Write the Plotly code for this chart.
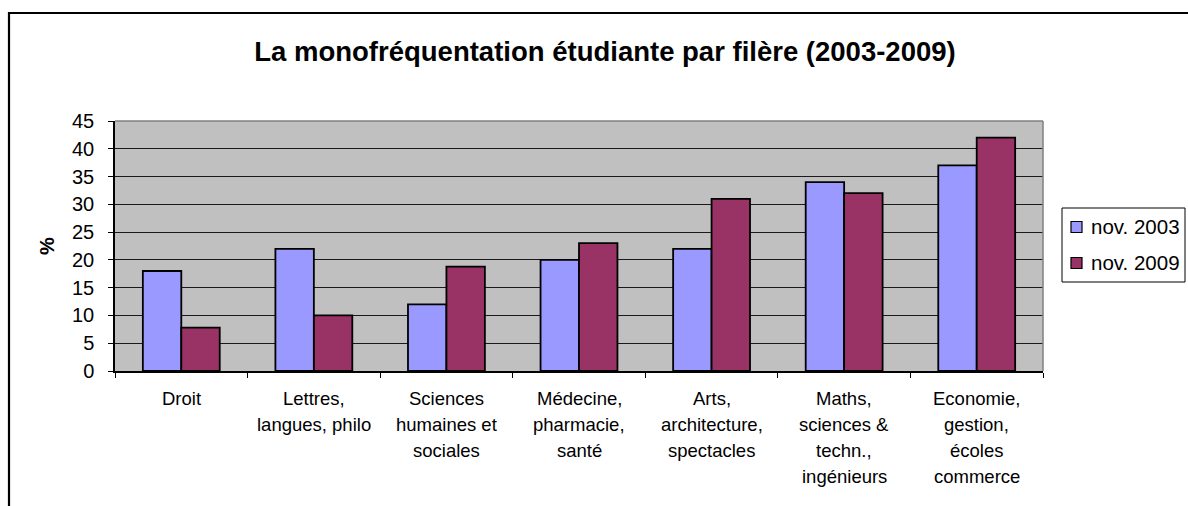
import plotly.graph_objects as go

# Filières (category labels, line breaks as shown under the axis)
categories = [
    "Droit",
    "Lettres,<br>langues, philo",
    "Sciences<br>humaines et<br>sociales",
    "Médecine,<br>pharmacie,<br>santé",
    "Arts,<br>architecture,<br>spectacles",
    "Maths,<br>sciences &<br>techn.,<br>ingénieurs",
    "Economie,<br>gestion,<br>écoles<br>commerce",
]
series_names = ["nov. 2003", "nov. 2009"]
series_colors = ["#9999FF", "#993366"]
values_2003 = [18, 22, 12, 20, 22, 34, 37]
values_2009 = [7.8, 10, 18.8, 23, 31, 32, 42]
y_ticks = [0, 5, 10, 15, 20, 25, 30, 35, 40, 45]

W, H = 1188, 506
L, R, T, B = 115, 145, 121, 135
plot_w = W - L - R
plot_h = H - T - B

FONT = "Liberation Sans, Arial, sans-serif"
idx = list(range(len(categories)))


def px_x(x):
    """Pixel column -> paper x."""
    return (x - L) / plot_w


def px_y(y):
    """Pixel row (from top) -> paper y."""
    return (H - B - y) / plot_h


fig = go.Figure()
for name, color, vals in zip(series_names, series_colors, [values_2003, values_2009]):
    fig.add_trace(go.Bar(
        x=idx, y=vals, name=name, showlegend=False,
        marker=dict(color=color, line=dict(color="black", width=1.8)),
    ))

# Category labels, one annotation per line for wider line spacing
annotations = []
for i, label in enumerate(categories):
    for j, line in enumerate(label.split("<br>")):
        annotations.append(dict(
            x=i, y=0, xref="x", yref="paper", text=line, showarrow=False,
            xanchor="center", yanchor="middle", yshift=-(27 + 26 * j),
            font=dict(family=FONT, size=18.5, color="black"),
        ))

# Y axis title
annotations.append(dict(
    x=px_x(47), y=px_y(246), xref="paper", yref="paper",
    text="<b>%</b>", showarrow=False, textangle=-90,
    xanchor="center", yanchor="middle",
    font=dict(family=FONT, size=20, color="black"),
))

shapes = [
    # gray top and right edges of the plot area
    dict(type="line", xref="paper", yref="paper", x0=0, x1=1, y0=1, y1=1,
         line=dict(color="#808080", width=1.5)),
    dict(type="line", xref="paper", yref="paper", x0=1, x1=1, y0=0, y1=1,
         line=dict(color="#808080", width=1.5)),
    # outer chart frame
    dict(type="rect", xref="paper", yref="paper",
         x0=px_x(9), x1=px_x(W + 20), y0=px_y(H + 20), y1=px_y(13),
         line=dict(color="black", width=2.2), fillcolor="rgba(0,0,0,0)"),
    # legend box
    dict(type="rect", xref="paper", yref="paper",
         x0=px_x(1062), x1=px_x(1185), y0=px_y(282), y1=px_y(208),
         line=dict(color="black", width=1), fillcolor="white"),
]

# Legend entries: swatch + label
legend_rows = [227, 263]
for name, color, row in zip(series_names, series_colors, legend_rows):
    shapes.append(dict(
        type="rect", xref="paper", yref="paper",
        x0=px_x(1071), x1=px_x(1082), y0=px_y(row + 5.5), y1=px_y(row - 5.5),
        line=dict(color="black", width=1.2), fillcolor=color,
    ))
    annotations.append(dict(
        x=px_x(1089), y=px_y(row - 1), xref="paper", yref="paper",
        text=name, showarrow=False, xanchor="left", yanchor="middle",
        font=dict(family=FONT, size=20.5, color="black"),
    ))

fig.update_layout(
    width=W, height=H,
    margin=dict(l=L, r=R, t=T, b=B, autoexpand=False),
    paper_bgcolor="white", plot_bgcolor="#C0C0C0",
    barmode="group", bargap=0.42, bargroupgap=0,
    showlegend=False,
    title=dict(
        text="<b>La monofréquentation étudiante par filère (2003-2009)</b>",
        x=605 / W, xref="container", xanchor="center",
        y=1 - 51 / H, yref="container", yanchor="middle",
        font=dict(family=FONT, size=27.5, color="black"),
    ),
    xaxis=dict(
        range=[-0.5, len(categories) - 0.5],
        tickmode="array", tickvals=[i - 0.5 for i in range(len(categories) + 1)],
        showticklabels=False, ticks="outside", ticklen=5, tickcolor="black",
        showline=True, linecolor="black", linewidth=1.5, showgrid=False,
        zeroline=False, fixedrange=True,
    ),
    yaxis=dict(
        range=[0, 45], tickmode="array", tickvals=y_ticks,
        ticks="outside", ticklen=5, tickcolor="black",
        tickfont=dict(family=FONT, size=20, color="black"),
        ticklabelstandoff=10,
        showline=True, linecolor="black", linewidth=1.5,
        showgrid=True, gridcolor="#1a1a1a", gridwidth=1,
        zeroline=False, fixedrange=True,
    ),
    annotations=annotations,
    shapes=shapes,
)

fig.write_html("out.html")
